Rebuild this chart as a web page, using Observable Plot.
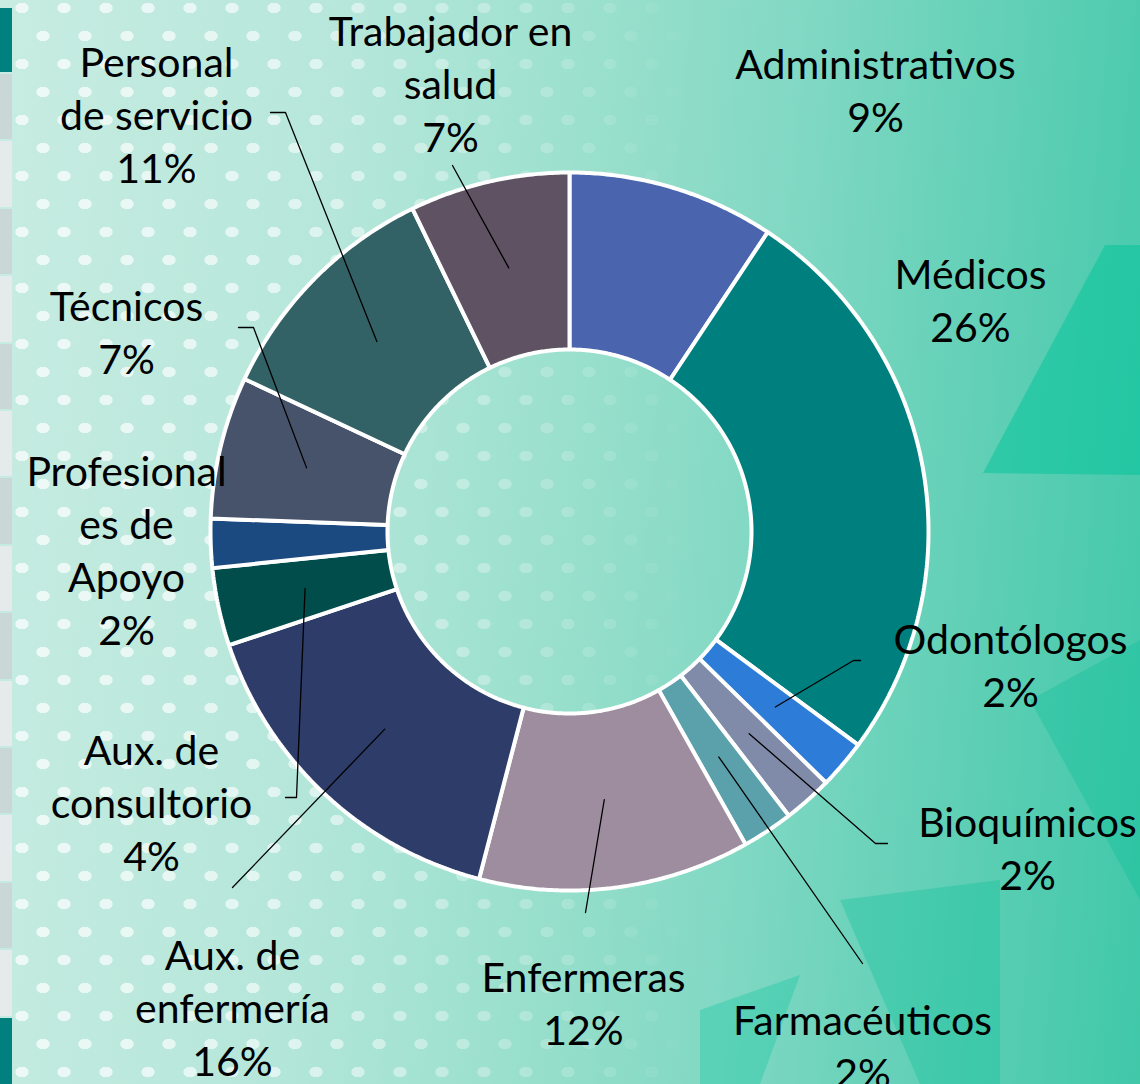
<!DOCTYPE html>
<html>
<head>
<meta charset="utf-8">
<script src="https://cdn.jsdelivr.net/npm/d3@7"></script>
<script src="https://cdn.jsdelivr.net/npm/@observablehq/plot@0.6"></script>
<style>
  html, body { margin: 0; padding: 0; width: 1140px; height: 1084px; overflow: hidden; }
  body {
    position: relative;
    background: linear-gradient(95deg, #c8ece2 0%, #b6e7da 28%, #9be0cd 48%, #80d8c3 66%, #5ecfb5 84%, #40c8a9 100%);
  }
  #dots {
    position: absolute; left: 12px; top: 0; width: 760px; height: 1084px;
    background-image:
      radial-gradient(ellipse 7px 5.5px at 50% 50%, rgba(255,255,255,0.7) 90%, rgba(255,255,255,0) 100%),
      radial-gradient(ellipse 7px 5.5px at 50% 50%, rgba(255,255,255,0.7) 90%, rgba(255,255,255,0) 100%);
    background-size: 42px 56px, 42px 56px;
    background-position: 10px 8px, 31px 36px;
    -webkit-mask-image: linear-gradient(90deg, rgba(0,0,0,1) 0%, rgba(0,0,0,0.85) 35%, rgba(0,0,0,0) 90%);
    mask-image: linear-gradient(90deg, rgba(0,0,0,1) 0%, rgba(0,0,0,0.85) 35%, rgba(0,0,0,0) 90%);
  }
  .tri { position: absolute; left: 0; top: 0; width: 1140px; height: 1084px; }
  #t1 { background: rgba(0, 196, 154, 0.5); clip-path: polygon(983px 473px, 1105px 245px, 1140px 245px, 1140px 475px); }
  #t2 { background: rgba(0, 190, 150, 0.3); clip-path: polygon(1030px 700px, 1140px 640px, 1140px 900px); }
  #t3 { background: rgba(0, 190, 150, 0.3); clip-path: polygon(840px 900px, 1000px 880px, 1000px 1084px, 920px 1084px); }
  #t5 { background: rgba(0, 196, 154, 0.3); clip-path: polygon(700px 1010px, 800px 975px, 760px 1084px, 700px 1084px); }
  #strip { position: absolute; left: 0; top: 0; width: 12px; height: 1084px; }
  #strip div { position: absolute; left: 0; width: 12px; }
  #chart { position: absolute; left: 0; top: 0; }
</style>
</head>
<body>
<div id="dots"></div>
<div class="tri" id="t1"></div>
<div class="tri" id="t2"></div>
<div class="tri" id="t3"></div>
<div class="tri" id="t5"></div>
<div id="strip"></div>
<div id="chart"></div>
<script>
// ---------- data ----------
const categories = ["Administrativos", "Médicos", "Odontólogos", "Bioquímicos", "Farmacéuticos", "Enfermeras",
  "Aux. de enfermería", "Aux. de consultorio", "Profesionales de Apoyo", "Técnicos", "Personal de servicio", "Trabajador en salud"];
const values = [9.3, 25.8, 2.2, 2.2, 2.3, 12.2, 15.8, 3.5, 2.2, 6.4, 10.8, 7.2];
const pctLabels = ["9%", "26%", "2%", "2%", "2%", "12%", "16%", "4%", "2%", "7%", "11%", "7%"];
const labelNames = ["Administrativos", "Médicos", "Odontólogos", "Bioquímicos", "Farmacéuticos", "Enfermeras",
  "Aux. de\nenfermería", "Aux. de\nconsultorio", "Profesional\nes de\nApoyo", "Técnicos", "Personal\nde servicio", "Trabajador en\nsalud"];
const colors = ["#4a65ad", "#007f7f", "#2d7dd8", "#7f8ba8", "#5aa1ac", "#9d8d9f",
  "#2d3c68", "#004d4c", "#1b4a80", "#46536b", "#336266", "#5e5263"];

// ---------- layout (offsets from donut centre, in px) ----------
const outerR = 359, innerR = 182;
const labelCenters = [[306, -443], [401, -233], [441, 132], [458, 315], [293, 513], [14, 470],
  [-337, 475], [-418, 270], [-443, 17], [-443, -201], [-413, -418], [-119, -449]];
const leaderBends = [null, null, [[284, 129], [291, 129]], [[306, 312], [318, 312]], [[293, 432]], [[16, 381]],
  [[-337, 356]], [[-273, 266], [-284, 266]], null, [[-316, -204], [-331, -204]], [[-284, -419], [-299, -419]], [[-117, -366]]];

// ---------- build geometry ----------
const total = d3.sum(values);
const toAngle = d3.scaleLinear().domain([0, total]).range([0, 2 * Math.PI]);
const cum = d3.cumsum(values);
const slices = categories.map((c, i) => ({cat: c, a0: toAngle(i ? cum[i - 1] : 0), a1: toAngle(cum[i])}));
const pt = (a, r) => [r * Math.sin(a), -r * Math.cos(a)];

const polyPts = [];
for (const s of slices) {
  const n = Math.max(4, Math.ceil((s.a1 - s.a0) / 0.008));
  for (let k = 0; k <= n; k++) { const a = s.a0 + (s.a1 - s.a0) * k / n; const [x, y] = pt(a, outerR); polyPts.push({cat: s.cat, x, y}); }
  for (let k = n; k >= 0; k--) { const a = s.a0 + (s.a1 - s.a0) * k / n; const [x, y] = pt(a, innerR); polyPts.push({cat: s.cat, x, y}); }
}

const leaderPts = [];
slices.forEach((s, i) => {
  if (!leaderBends[i]) return;
  const [x0, y0] = pt((s.a0 + s.a1) / 2, (outerR + innerR) / 2);
  leaderPts.push({cat: s.cat, x: x0, y: y0});
  for (const [x, y] of leaderBends[i]) leaderPts.push({cat: s.cat, x, y});
});

const labels = categories.map((c, i) => ({cat: c, x: labelCenters[i][0], y: labelCenters[i][1], text: labelNames[i] + "\n" + pctLabels[i]}));

// ---------- decorative left strip ----------
const strip = document.getElementById("strip");
const segs = [[8, 72, "#00807e"]];
for (let k = 0; k < 14; k++) segs.push([74 + k * 67.4, 74 + (k + 1) * 67.4 - 2, k % 2 ? "#e4ebea" : "#c9d7d6"]);
segs.push([1018, 1084, "#00807e"]);
for (const [t, b, col] of segs) { const d = document.createElement("div"); d.style.top = t + "px"; d.style.height = (b - t) + "px"; d.style.background = col; strip.appendChild(d); }

// ---------- plot ----------
const fontSize = 41;
const chart = Plot.plot({
  width: 1140, height: 1084,
  margin: 0,
  x: {domain: [-569, 571], range: [0, 1140], axis: null},
  y: {domain: [-531, 553], range: [0, 1084], axis: null},
  color: {domain: categories, range: colors},
  style: {background: "none", overflow: "visible"},
  marks: [
    Plot.line(polyPts, {x: "x", y: "y", z: "cat", fill: "cat", stroke: "white", strokeWidth: 4, curve: "linear-closed", strokeLinejoin: "miter"}),
    Plot.line(leaderPts, {x: "x", y: "y", z: "cat", stroke: "black", strokeWidth: 1.3, curve: "linear"}),
    Plot.text(labels, {x: "x", y: "y", text: "text", fill: "#000", fontSize, lineHeight: 53 / fontSize,
      textAnchor: "middle", lineAnchor: "middle", fontFamily: "Lato, 'Noto Sans', sans-serif"})
  ]
});
document.getElementById("chart").appendChild(chart);
</script>
</body>
</html>
